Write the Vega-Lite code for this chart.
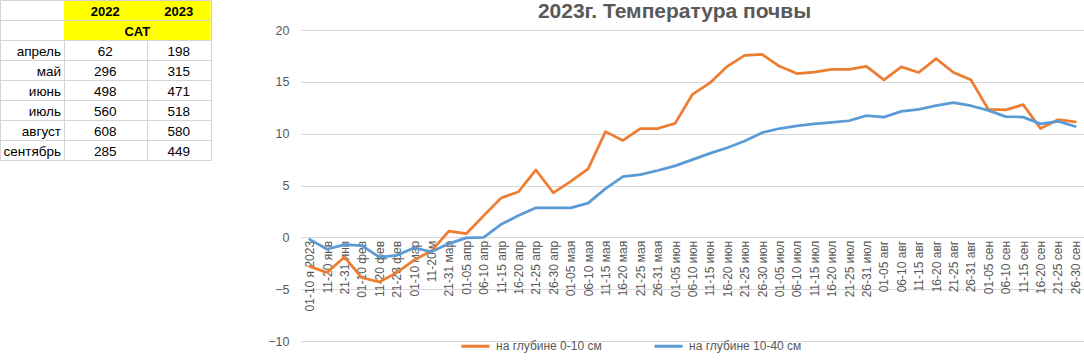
{
  "$schema": "https://vega.github.io/schema/vega-lite/v6.json",
  "padding": 0,
  "background": "white",
  "bounds": "flush",
  "spacing": 90,
  "config": {"view": {"stroke": null}, "font": "Liberation Sans"},
  "datasets": {
    "table": [
      {"month": "апрель", "year": 2022, "cat": 62},
      {"month": "май", "year": 2022, "cat": 296},
      {"month": "июнь", "year": 2022, "cat": 498},
      {"month": "июль", "year": 2022, "cat": 560},
      {"month": "август", "year": 2022, "cat": 608},
      {"month": "сентябрь", "year": 2022, "cat": 285},
      {"month": "апрель", "year": 2023, "cat": 198},
      {"month": "май", "year": 2023, "cat": 315},
      {"month": "июнь", "year": 2023, "cat": 471},
      {"month": "июль", "year": 2023, "cat": 518},
      {"month": "август", "year": 2023, "cat": 580},
      {"month": "сентябрь", "year": 2023, "cat": 449}
    ],
    "temps": [
      {"period": "01-10 я 2023", "depth": "на глубине 0-10 см", "t": -2.8},
      {"period": "11-20 янв", "depth": "на глубине 0-10 см", "t": -3.4},
      {"period": "21-31 янв", "depth": "на глубине 0-10 см", "t": -1.9},
      {"period": "01-10 фев", "depth": "на глубине 0-10 см", "t": -3.9},
      {"period": "11-20 фев", "depth": "на глубине 0-10 см", "t": -4.3},
      {"period": "21-28 фев", "depth": "на глубине 0-10 см", "t": -3.4},
      {"period": "01-10 мар", "depth": "на глубине 0-10 см", "t": -2.2},
      {"period": "11-20 м", "depth": "на глубине 0-10 см", "t": -1.3},
      {"period": "21-31 мар", "depth": "на глубине 0-10 см", "t": 0.6},
      {"period": "01-05 апр", "depth": "на глубине 0-10 см", "t": 0.35},
      {"period": "06-10 апр", "depth": "на глубине 0-10 см", "t": 2.1},
      {"period": "11-15 апр", "depth": "на глубине 0-10 см", "t": 3.8},
      {"period": "16-20 апр", "depth": "на глубине 0-10 см", "t": 4.4},
      {"period": "21-25 апр", "depth": "на глубине 0-10 см", "t": 6.5},
      {"period": "26-30 апр", "depth": "на глубине 0-10 см", "t": 4.3},
      {"period": "01-05 мая", "depth": "на глубине 0-10 см", "t": 5.4},
      {"period": "06-10 мая", "depth": "на глубине 0-10 см", "t": 6.6},
      {"period": "11-15 мая", "depth": "на глубине 0-10 см", "t": 10.2},
      {"period": "16-20 мая", "depth": "на глубине 0-10 см", "t": 9.35},
      {"period": "21-25 мая", "depth": "на глубине 0-10 см", "t": 10.5},
      {"period": "26-31 мая", "depth": "на глубине 0-10 см", "t": 10.5},
      {"period": "01-05 июн", "depth": "на глубине 0-10 см", "t": 11.0},
      {"period": "06-10 июн", "depth": "на глубине 0-10 см", "t": 13.8},
      {"period": "11-15 июн", "depth": "на глубине 0-10 см", "t": 14.9},
      {"period": "16-20 июн", "depth": "на глубине 0-10 см", "t": 16.5},
      {"period": "21-25 июн", "depth": "на глубине 0-10 см", "t": 17.55},
      {"period": "26-30 июн", "depth": "на глубине 0-10 см", "t": 17.65},
      {"period": "01-05 июл", "depth": "на глубине 0-10 см", "t": 16.5},
      {"period": "06-10 июл", "depth": "на глубине 0-10 см", "t": 15.8},
      {"period": "11-15 июл", "depth": "на глубине 0-10 см", "t": 15.95},
      {"period": "16-20 июл", "depth": "на глубине 0-10 см", "t": 16.2},
      {"period": "21-25 июл", "depth": "на глубине 0-10 см", "t": 16.2},
      {"period": "26-31 июл", "depth": "на глубине 0-10 см", "t": 16.5},
      {"period": "01-05 авг", "depth": "на глубине 0-10 см", "t": 15.2},
      {"period": "06-10 авг", "depth": "на глубине 0-10 см", "t": 16.45},
      {"period": "11-15 авг", "depth": "на глубине 0-10 см", "t": 15.9},
      {"period": "16-20 авг", "depth": "на глубине 0-10 см", "t": 17.25},
      {"period": "21-25 авг", "depth": "на глубине 0-10 см", "t": 15.9},
      {"period": "26-31 авг", "depth": "на глубине 0-10 см", "t": 15.2},
      {"period": "01-05 сен", "depth": "на глубине 0-10 см", "t": 12.35},
      {"period": "06-10 сен", "depth": "на глубине 0-10 см", "t": 12.3},
      {"period": "11-15 сен", "depth": "на глубине 0-10 см", "t": 12.8},
      {"period": "16-20 сен", "depth": "на глубине 0-10 см", "t": 10.5},
      {"period": "21-25 сен", "depth": "на глубине 0-10 см", "t": 11.35},
      {"period": "26-30 сен", "depth": "на глубине 0-10 см", "t": 11.15},
      {"period": "01-10 я 2023", "depth": "на глубине 10-40 см", "t": -0.2},
      {"period": "11-20 янв", "depth": "на глубине 10-40 см", "t": -1.15},
      {"period": "21-31 янв", "depth": "на глубине 10-40 см", "t": -0.7},
      {"period": "01-10 фев", "depth": "на глубине 10-40 см", "t": -0.8},
      {"period": "11-20 фев", "depth": "на глубине 10-40 см", "t": -1.9},
      {"period": "21-28 фев", "depth": "на глубине 10-40 см", "t": -1.75},
      {"period": "01-10 мар", "depth": "на глубине 10-40 см", "t": -1.0},
      {"period": "11-20 м", "depth": "на глубине 10-40 см", "t": -1.4},
      {"period": "21-31 мар", "depth": "на глубине 10-40 см", "t": -0.6},
      {"period": "01-05 апр", "depth": "на глубине 10-40 см", "t": -0.05},
      {"period": "06-10 апр", "depth": "на глубине 10-40 см", "t": 0.0},
      {"period": "11-15 апр", "depth": "на глубине 10-40 см", "t": 1.25},
      {"period": "16-20 апр", "depth": "на глубине 10-40 см", "t": 2.1},
      {"period": "21-25 апр", "depth": "на глубине 10-40 см", "t": 2.85},
      {"period": "26-30 апр", "depth": "на глубине 10-40 см", "t": 2.85},
      {"period": "01-05 мая", "depth": "на глубине 10-40 см", "t": 2.85},
      {"period": "06-10 мая", "depth": "на глубине 10-40 см", "t": 3.3},
      {"period": "11-15 мая", "depth": "на глубине 10-40 см", "t": 4.7},
      {"period": "16-20 мая", "depth": "на глубине 10-40 см", "t": 5.85},
      {"period": "21-25 мая", "depth": "на глубине 10-40 см", "t": 6.05},
      {"period": "26-31 мая", "depth": "на глубине 10-40 см", "t": 6.45},
      {"period": "01-05 июн", "depth": "на глубине 10-40 см", "t": 6.9},
      {"period": "06-10 июн", "depth": "на глубине 10-40 см", "t": 7.5},
      {"period": "11-15 июн", "depth": "на глубине 10-40 см", "t": 8.1},
      {"period": "16-20 июн", "depth": "на глубине 10-40 см", "t": 8.65},
      {"period": "21-25 июн", "depth": "на глубине 10-40 см", "t": 9.3},
      {"period": "26-30 июн", "depth": "на глубине 10-40 см", "t": 10.1},
      {"period": "01-05 июл", "depth": "на глубине 10-40 см", "t": 10.5},
      {"period": "06-10 июл", "depth": "на глубине 10-40 см", "t": 10.75},
      {"period": "11-15 июл", "depth": "на глубине 10-40 см", "t": 10.95},
      {"period": "16-20 июл", "depth": "на глубине 10-40 см", "t": 11.1},
      {"period": "21-25 июл", "depth": "на глубине 10-40 см", "t": 11.25},
      {"period": "26-31 июл", "depth": "на глубине 10-40 см", "t": 11.75},
      {"period": "01-05 авг", "depth": "на глубине 10-40 см", "t": 11.6},
      {"period": "06-10 авг", "depth": "на глубине 10-40 см", "t": 12.15},
      {"period": "11-15 авг", "depth": "на глубине 10-40 см", "t": 12.35},
      {"period": "16-20 авг", "depth": "на глубине 10-40 см", "t": 12.7},
      {"period": "21-25 авг", "depth": "на глубине 10-40 см", "t": 13.0},
      {"period": "26-31 авг", "depth": "на глубине 10-40 см", "t": 12.7},
      {"period": "01-05 сен", "depth": "на глубине 10-40 см", "t": 12.25},
      {"period": "06-10 сен", "depth": "на глубине 10-40 см", "t": 11.65},
      {"period": "11-15 сен", "depth": "на глубине 10-40 см", "t": 11.6},
      {"period": "16-20 сен", "depth": "на глубине 10-40 см", "t": 10.95},
      {"period": "21-25 сен", "depth": "на глубине 10-40 см", "t": 11.2},
      {"period": "26-30 сен", "depth": "на глубине 10-40 см", "t": 10.7}
    ]
  },
  "hconcat": [
    {
      "width": 211,
      "height": 160,
      "layer": [
        {
          "data": {"values": [{"row": "h1"}, {"row": "h2"}]},
          "mark": {"type": "rect", "color": "#FFFF00"},
          "encoding": {
            "y": {
              "field": "row", "type": "nominal",
              "scale": {"domain": ["h1", "h2", "апрель", "май", "июнь", "июль", "август", "сентябрь"], "paddingInner": 0, "paddingOuter": 0},
              "axis": {"title": null, "grid": true, "gridColor": "#d4d4d4", "bandPosition": 0, "labels": false, "ticks": false, "domain": false}
            },
            "x": {
              "datum": 2021.5, "type": "quantitative",
              "scale": {"domain": [2021, 2021.5, 2022, 2022.5, 2023, 2023.5], "range": [0, 64, 105.3, 146.7, 178.7, 210.7], "nice": false, "zero": false},
              "axis": {"title": null, "orient": "bottom", "values": [2021, 2021.5, 2022.5, 2023.5], "grid": true, "gridColor": "#d4d4d4", "labels": false, "ticks": false, "domain": true, "domainColor": "#d4d4d4"}
            },
            "x2": {"datum": 2023.5}
          }
        },
        {
          "data": {"values": [{"year": 2022}, {"year": 2023}]},
          "mark": {"type": "text", "fontWeight": "bold", "fontSize": 13, "color": "black", "dy": 1.5},
          "encoding": {
            "x": {"field": "year", "type": "quantitative"},
            "y": {"datum": "h1", "type": "nominal"},
            "text": {"field": "year", "type": "quantitative", "format": "d"}
          }
        },
        {
          "data": {"values": [{"label": "CAT"}]},
          "mark": {"type": "text", "fontWeight": "bold", "fontSize": 13, "color": "black", "dx": -9.4, "dy": 1.5},
          "encoding": {
            "x": {"datum": 2022.5, "type": "quantitative"},
            "y": {"datum": "h2", "type": "nominal"},
            "text": {"field": "label", "type": "nominal"}
          }
        },
        {
          "data": {"name": "table"},
          "mark": {"type": "text", "fontSize": 13.5, "color": "black", "dy": 1.5},
          "encoding": {
            "x": {"field": "year", "type": "quantitative"},
            "y": {"field": "month", "type": "nominal"},
            "text": {"field": "cat", "type": "quantitative"}
          }
        },
        {
          "data": {"name": "table"},
          "transform": [{"filter": {"field": "year", "equal": 2022}}],
          "mark": {"type": "text", "fontSize": 13.5, "color": "black", "align": "right", "dx": -3, "dy": 1.5},
          "encoding": {
            "x": {"datum": 2021.5, "type": "quantitative"},
            "y": {"field": "month", "type": "nominal"},
            "text": {"field": "month", "type": "nominal"}
          }
        }
      ]
    },
    {
      "width": 783,
      "height": 341,
      "title": {"text": "2023г. Температура почвы", "fontSize": 21, "fontWeight": "bold", "color": "#595959", "frame": "group", "anchor": "middle", "baseline": "alphabetic", "offset": -38.5, "dx": -18},
      "data": {"name": "temps"},
      "mark": {"type": "line", "strokeWidth": 2.75, "strokeCap": "round", "strokeJoin": "round"},
      "encoding": {
        "x": {
          "field": "period", "type": "nominal", "sort": null,
          "scale": {"type": "point", "padding": 0.5},
          "axis": {"title": null, "orient": "bottom", "offset": -103.65, "labelAngle": -90, "labelFontSize": 12, "labelColor": "#595959", "labelPadding": 3, "ticks": false, "tickSize": 0, "domain": false, "grid": false, "labelOverlap": false}
        },
        "y": {
          "field": "t", "type": "quantitative",
          "scale": {"domain": [-10, 22.9], "nice": false, "zero": false},
          "axis": {"title": null, "values": [-10, -5, 0, 5, 10, 15, 20], "grid": true, "gridColor": "#d9d9d9", "domain": false, "ticks": false, "tickSize": 0, "labelPadding": 12, "labelFontSize": 12.5, "labelColor": "#595959"}
        },
        "color": {
          "field": "depth", "type": "nominal", "sort": null,
          "scale": {"domain": ["на глубине 0-10 см", "на глубине 10-40 см"], "range": ["#ED7D31", "#5B9BD5"]},
          "legend": {"title": null, "orient": "none", "legendX": 460, "legendY": 330.5, "direction": "horizontal", "symbolType": "stroke", "symbolSize": 784, "symbolStrokeWidth": 3, "labelFontSize": 12, "labelColor": "#595959", "labelOffset": 5, "columnPadding": 46}
        }
      }
    }
  ]
}
